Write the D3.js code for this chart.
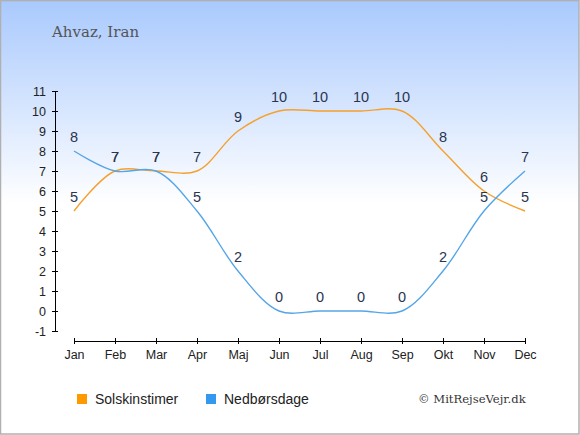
<!DOCTYPE html>
<html><head><meta charset="utf-8">
<script src="https://cdn.jsdelivr.net/npm/d3@7"></script>
<style>body{margin:0;padding:0;overflow:hidden}svg{display:block}</style>
</head><body>
<script>
const months = ["Jan","Feb","Mar","Apr","Maj","Jun","Jul","Aug","Sep","Okt","Nov","Dec"];
const sunHours = [5,7,7,7,9,10,10,10,10,8,6,5];
const rainDays = [8,7,7,5,2,0,0,0,0,2,5,7];
const yTicks = [-1,0,1,2,3,4,5,6,7,8,9,10,11];
const seriesNames = ["Solskinstimer","Nedbørsdage"];

const W=580,H=435;
const svg=d3.select("body").append("svg").attr("width",W).attr("height",H);
const defs=svg.append("defs");
const g=defs.append("linearGradient").attr("id","bg").attr("x1",0).attr("y1",0).attr("x2",0).attr("y2",1);
g.append("stop").attr("offset","0").attr("stop-color","#a9c9fd");
g.append("stop").attr("offset","0.47").attr("stop-color","#ffffff");
g.append("stop").attr("offset","1").attr("stop-color","#ffffff");
svg.append("rect").attr("x",0.5).attr("y",0.5).attr("width",W-1.5).attr("height",H-1.5)
  .attr("fill","url(#bg)").attr("stroke","#b0b0b0").attr("stroke-width",1.5);

const x=d3.scalePoint().domain(months).range([74,525]);
const y=d3.scaleLinear().domain([-1,11]).range([331,91]);
const font="Liberation Sans, Arial, sans-serif";

svg.append("text").attr("x",52).attr("y",37).text("Ahvaz, Iran")
  .attr("font-family","DejaVu Serif, serif").attr("font-size",15).attr("fill","#555");

const yAx=svg.append("g").attr("transform","translate(55,0)")
  .call(d3.axisLeft(y).tickValues(yTicks).tickSize(3).tickPadding(6).tickFormat(d=>String(d)));
yAx.select(".domain").attr("d","M0.5,"+y(11)+"V"+y(-1)).attr("stroke","#000");
yAx.selectAll(".tick line").attr("x1",-3).attr("x2",3).attr("stroke","#000");
const xAx=svg.append("g").attr("transform","translate(0,341)")
  .call(d3.axisBottom(x).tickSize(3).tickPadding(6).tickSizeOuter(0));
xAx.select(".domain").attr("d","M74,0.5H525").attr("stroke","#000");
xAx.selectAll(".tick line").attr("y1",-3).attr("y2",3).attr("stroke","#000");
svg.selectAll(".tick text").attr("font-family",font).attr("font-size",12.5).attr("fill","#222");

const line=d3.line().x((d,i)=>x(months[i])).y(d=>y(d)).curve(d3.curveCatmullRom.alpha(0.5));
const series=[{v:sunHours,c:"#f6a02c"},{v:rainDays,c:"#55a5e8"}];
series.forEach(s=>{
  svg.append("path").attr("d",line(s.v)).attr("fill","none").attr("stroke",s.c).attr("stroke-width",1.4);
});
series.forEach(s=>{
  svg.append("g").selectAll("text").data(s.v).join("text")
    .attr("x",(d,i)=>x(months[i])).attr("y",d=>y(d)-9)
    .attr("text-anchor","middle").attr("font-family",font)
    .attr("font-size",14.5).attr("fill","#2a3550").text(d=>d);
});

const leg=[{n:seriesNames[0],c:"#ff9900",x:77},{n:seriesNames[1],c:"#3399ee",x:206}];
leg.forEach(l=>{
  svg.append("rect").attr("x",l.x).attr("y",394).attr("width",10).attr("height",10).attr("fill",l.c);
  svg.append("text").attr("x",l.x+18).attr("y",404).text(l.n)
    .attr("font-family",font).attr("font-size",14).attr("fill","#222");
});
svg.append("text").attr("x",418).attr("y",403).text("© MitRejseVejr.dk")
  .attr("font-family","DejaVu Serif, serif").attr("font-size",11.6).attr("fill","#333");
</script>
</body></html>
